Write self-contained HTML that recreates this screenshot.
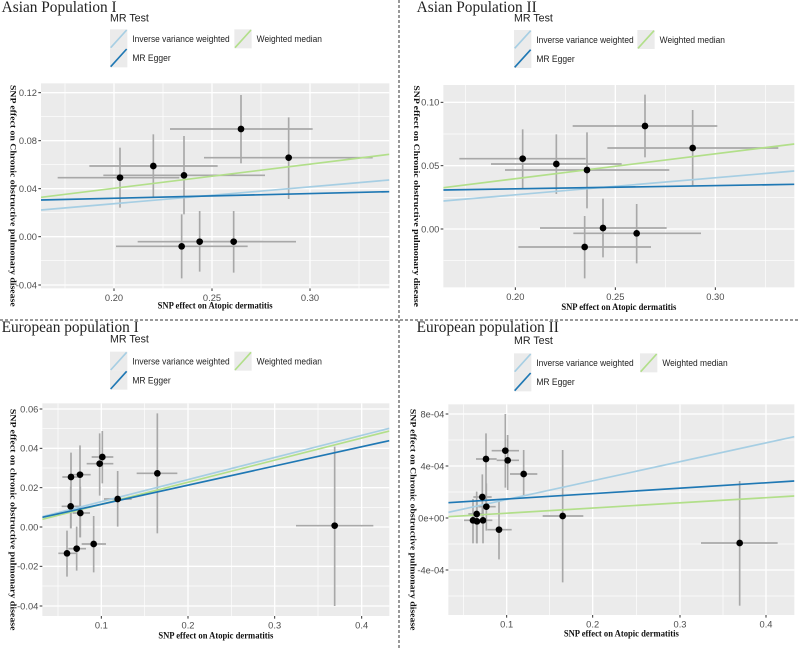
<!DOCTYPE html>
<html><head><meta charset="utf-8"><style>
html,body{margin:0;padding:0;background:#fff}
svg{display:block}
</style></head><body>
<svg id="s" width="799" height="649" viewBox="0 0 799 649" xmlns="http://www.w3.org/2000/svg">
<line x1="399" y1="0" x2="399" y2="649" stroke="#333" stroke-width="1" stroke-dasharray="3,2"/>
<line x1="0" y1="320" x2="799" y2="320" stroke="#333" stroke-width="1" stroke-dasharray="3,2"/>
</svg>
<script>
const NS="http://www.w3.org/2000/svg";
const S=document.getElementById('s');
function el(p,t,a,txt){const e=document.createElementNS(NS,t);for(const k in a)e.setAttribute(k,a[k]);if(txt!==undefined)e.textContent=txt;p.appendChild(e);return e;}
const LB="#a6cee3",DB="#1f78b4",GR="#b2df8a";
const panels=[
{ox:0,oy:0,title:"Asian Population I",tx:5,ylab:"SNP effect on Chronic obstructive pulmonary disease",ylx:32,
 plot:[123,250,1168,865],
 xt:[[342,"0.20"],[636,"0.25"],[930,"0.30"]],xm:[195,489,783,1077],
 yt:[[278,"0.12"],[422,"0.08"],[566,"0.04"],[710,"0.00"],[855,"-0.04"]],ym:[350,494,638,782],
 pts:[[360,533,173,538,443,623],[460,498,268,653,403,590],[552,526,310,795,408,643],[723,387,510,938,285,490],[866,473,612,1118,352,597],[545,739,348,743,643,835],[599,725,413,790,633,815],[701,725,510,888,633,818]],
 lines:[[GR,592,463],[LB,630,540],[DB,600,575]],
 leg:{x:330,k2:703,tt:65,y1:88},xtitle:[583,925]},
{ox:400,oy:0,title:"Asian Population II",tx:50,ylab:"SNP effect on Chronic obstructive pulmonary disease",ylx:42,
 plot:[130,255,1183,862],
 xt:[[346,"0.20"],[646,"0.25"],[946,"0.30"]],xm:[196,496,796,1096],
 yt:[[307,"0.10"],[497,"0.05"],[687,"0.00"]],ym:[402,592,782],
 pts:[[368,476,178,557,388,565],[469,492,273,665,403,582],[561,510,315,808,397,625],[735,378,518,952,284,472],[878,444,622,1135,330,556],[554,741,355,753,648,835],[609,684,420,800,596,772],[710,700,520,903,612,790]],
 lines:[[GR,563,432],[LB,603,513],[DB,570,553]],
 leg:{x:342,k2:712,tt:65,y1:90},xtitle:[595,930]},
{ox:0,oy:320,title:"European population I",tx:5,ylab:"SNP effect on chronic obstructive pulmonary disease",ylx:32,
 plot:[127,250,1168,888],
 xt:[[304,"0.1"],[564,"0.2"],[824,"0.3"],[1085,"0.4"]],xm:[174,434,694,954],
 yt:[[267,"0.06"],[385,"0.04"],[503,"0.02"],[621,"0.00"],[739,"-0.02"],[858,"-0.04"]],ym:[326,444,562,680,798],
 pts:[[213,471,187,240,398,625],[212,559,185,240,500,625],[240,464,213,272,376,652],[241,579,218,270,500,652],[307,411,275,340,333,490],[299,431,260,340,340,527],[353,537,312,395,453,620],[472,460,410,532,280,640],[1004,617,888,1120,380,858],[201,700,175,230,632,770],[230,686,205,258,620,752],[281,672,245,318,588,757]],
 lines:[[LB,590,325],[GR,598,333],[DB,592,362]],
 leg:{x:330,k2:703,tt:68,y1:95},xtitle:[588,955]},
{ox:400,oy:320,title:"European population II",tx:50,ylab:"SNP effect on Chronic obstructive pulmonary disease",ylx:32,
 plot:[145,253,1183,885],
 xt:[[320,"0.1"],[578,"0.2"],[840,"0.3"],[1098,"0.4"]],xm:[190,449,709,969],
 yt:[[282,"8e-04"],[438,"4e-04"],[594,"0e+00"],[750,"-4e-04"]],ym:[360,516,672,828],
 pts:[[316,392,275,357,282,503],[323,421,290,357,345,510],[258,417,228,290,340,548],[371,462,330,412,390,525],[247,531,220,275,463,610],[259,560,235,287,490,632],[230,582,205,250,515,670],[219,601,192,240,537,670],[231,604,210,250,545,670],[249,601,226,277,560,670],[297,629,262,335,545,718],[488,588,428,550,390,787],[1019,669,903,1133,483,857]],
 lines:[[LB,577,350],[DB,548,483],[GR,590,528]],
 leg:{x:342,k2:720,tt:72,y1:100},xtitle:[595,950]}
];
panels.forEach((p,i)=>{
 const g=el(S,'g',{transform:`translate(${p.ox},${p.oy}) scale(${1/3})`});
 const [x0,y0,x1,y1]=p.plot;
 const cid='c'+i;
 const d=el(g,'defs',{});const cp=el(d,'clipPath',{id:cid});el(cp,'rect',{x:x0,y:y0,width:x1-x0,height:y1-y0});
 el(g,'rect',{x:x0,y:y0,width:x1-x0,height:y1-y0,fill:'#ebebeb'});
 p.xm.forEach(x=>el(g,'line',{x1:x,x2:x,y1:y0,y2:y1,stroke:'#fff','stroke-width':2}));
 p.ym.forEach(y=>el(g,'line',{x1:x0,x2:x1,y1:y,y2:y,stroke:'#fff','stroke-width':2}));
 p.xt.forEach(([x,t])=>{el(g,'line',{x1:x,x2:x,y1:y0,y2:y1,stroke:'#fff','stroke-width':4});
   el(g,'line',{x1:x,x2:x,y1:y1,y2:y1+8,stroke:'#333','stroke-width':3});
   el(g,'text',{x:x,y:y1+38,'text-anchor':'middle','font-family':'Liberation Sans, sans-serif','font-size':28,fill:'#4d4d4d'},t);});
 p.yt.forEach(([y,t])=>{el(g,'line',{x1:x0,x2:x1,y1:y,y2:y,stroke:'#fff','stroke-width':4});
   el(g,'line',{x1:x0-8,x2:x0,y1:y,y2:y,stroke:'#333','stroke-width':3});
   el(g,'text',{x:x0-12,y:y+10,'text-anchor':'end','font-family':'Liberation Sans, sans-serif','font-size':28,fill:'#4d4d4d'},t);});
 const cg=el(g,'g',{'clip-path':`url(#${cid})`});
 p.pts.forEach(q=>{el(cg,'line',{x1:q[2],x2:q[3],y1:q[1],y2:q[1],stroke:'#a8a8a8','stroke-width':5});
   el(cg,'line',{x1:q[0],x2:q[0],y1:q[4],y2:q[5],stroke:'#a8a8a8','stroke-width':5});});
 p.lines.forEach(l=>el(cg,'line',{x1:x0,y1:l[1],x2:x1,y2:l[2],stroke:l[0],'stroke-width':5}));
 p.pts.forEach(q=>el(cg,'circle',{cx:q[0],cy:q[1],r:10,fill:'#000'}));
 el(g,'text',{x:p.tx,y:36,'font-family':'Liberation Serif, serif','font-size':46,fill:'#222'},p.title);
 el(g,'text',{x:(x0+x1)/2,y:p.xtitle[1],'text-anchor':'middle','font-family':'Liberation Serif, serif','font-weight':'bold','font-size':27,fill:'#111',textLength:345,lengthAdjust:'spacingAndGlyphs'},"SNP effect on Atopic dermatitis");
 const cy=(y0+y1)/2+30;
 el(g,'text',{x:0,y:0,transform:`translate(${p.ylx},${cy}) rotate(90)`,'text-anchor':'middle','font-family':'Liberation Serif, serif','font-weight':'bold','font-size':26,fill:'#111',textLength:665,lengthAdjust:'spacingAndGlyphs'},p.ylab);
 const L=p.leg;
 el(g,'text',{x:L.x,y:L.tt,'font-family':'Liberation Sans, sans-serif','font-size':32,fill:'#222'},"MR Test");
 const kw=52,kh=57;
 const keys=[[L.x,L.y1,LB,"Inverse variance weighted",292],[L.x,L.y1+kh,DB,"MR Egger",115],[L.k2,L.y1,GR,"Weighted median",196]];
 keys.forEach(([kx,ky,c,t,tl])=>{el(g,'rect',{x:kx,y:ky,width:kw,height:kh,fill:'#ebebeb'});
   el(g,'line',{x1:kx+2,y1:ky+kh-2,x2:kx+kw-2,y2:ky+2,stroke:c,'stroke-width':5});
   el(g,'text',{x:kx+kw+15,y:ky+kh/2+10,'font-family':'Liberation Sans, sans-serif','font-size':28,fill:'#222',textLength:tl,lengthAdjust:'spacingAndGlyphs'},t);});
});
</script>
</body></html>
